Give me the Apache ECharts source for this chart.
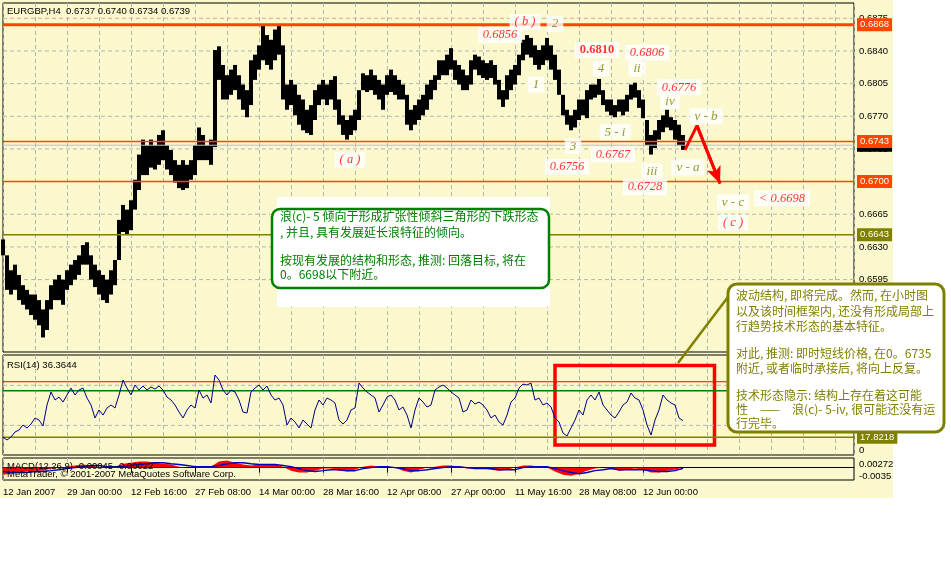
<!DOCTYPE html>
<html><head><meta charset="utf-8">
<script src="https://cdn.jsdelivr.net/npm/echarts@6/dist/echarts.min.js"></script>
<style>html,body{margin:0;padding:0;background:#fff}#c{width:951px;height:574px}</style>
</head><body><div id="c"></div>
<script>
// ---- data (EURGBP H4), sampled every 4 bars ----
const priceHigh = [
0.6638,0.6621,0.6605,0.6611,0.6600,0.6589,0.6584,0.6579,0.6579,0.6573,
0.6563,0.6573,0.6589,0.6595,0.6600,0.6595,0.6605,0.6611,0.6616,0.6621,
0.6632,0.6635,0.6621,0.6611,0.6605,0.6600,0.6595,0.6605,0.6616,0.6659,
0.6675,0.6670,0.6680,0.6702,0.6729,0.6745,0.6739,0.6745,0.6739,0.6750,
0.6755,0.6739,0.6734,0.6723,0.6718,0.6723,0.6718,0.6723,0.6739,0.6758,
0.6750,0.6739,0.6745,0.6841,0.6845,0.6825,0.6814,0.6820,0.6825,0.6814,
0.6804,0.6798,0.6830,0.6836,0.6846,0.6868,0.6857,0.6852,0.6863,0.6868,
0.6846,0.6804,0.6809,0.6804,0.6793,0.6788,0.6777,0.6782,0.6798,0.6804,
0.6809,0.6804,0.6809,0.6813,0.6788,0.6771,0.6766,0.6771,0.6777,0.6798,
0.6816,0.6814,0.6820,0.6814,0.6809,0.6804,0.6814,0.6820,0.6814,0.6809,
0.6804,0.6793,0.6777,0.6782,0.6788,0.6793,0.6804,0.6809,0.6814,0.6830,
0.6830,0.6836,0.6843,0.6830,0.6825,0.6820,0.6814,0.6830,0.6836,0.6834,
0.6830,0.6827,0.6830,0.6825,0.6809,0.6798,0.6814,0.6820,0.6825,0.6836,
0.6852,0.6857,0.6854,0.6846,0.6841,0.6846,0.6854,0.6846,0.6836,0.6820,
0.6793,0.6777,0.6771,0.6777,0.6788,0.6788,0.6798,0.6804,0.6804,0.6810,
0.6798,0.6788,0.6788,0.6782,0.6788,0.6788,0.6793,0.6804,0.6806,0.6798,
0.6788,0.6766,0.6750,0.6755,0.6766,0.6771,0.6777,0.6769,0.6766,0.6761,
0.6750];
const priceLow = [
0.6621,0.6584,0.6579,0.6584,0.6573,0.6568,0.6563,0.6557,0.6552,0.6546,
0.6533,0.6541,0.6563,0.6573,0.6573,0.6568,0.6584,0.6589,0.6595,0.6600,
0.6611,0.6611,0.6595,0.6587,0.6579,0.6573,0.6570,0.6579,0.6589,0.6616,
0.6646,0.6643,0.6648,0.6670,0.6691,0.6707,0.6707,0.6715,0.6713,0.6718,
0.6723,0.6713,0.6707,0.6699,0.6693,0.6691,0.6693,0.6702,0.6707,0.6723,
0.6723,0.6723,0.6718,0.6737,0.6809,0.6788,0.6788,0.6793,0.6798,0.6788,
0.6777,0.6769,0.6782,0.6809,0.6820,0.6830,0.6825,0.6820,0.6830,0.6836,
0.6788,0.6777,0.6782,0.6771,0.6761,0.6755,0.6752,0.6750,0.6766,0.6782,
0.6788,0.6782,0.6788,0.6777,0.6761,0.6750,0.6745,0.6750,0.6755,0.6766,
0.6798,0.6796,0.6798,0.6793,0.6788,0.6777,0.6793,0.6796,0.6793,0.6788,
0.6788,0.6761,0.6755,0.6761,0.6766,0.6771,0.6777,0.6788,0.6798,0.6809,
0.6814,0.6814,0.6820,0.6809,0.6804,0.6798,0.6798,0.6804,0.6820,0.6814,
0.6811,0.6809,0.6811,0.6804,0.6788,0.6780,0.6788,0.6798,0.6804,0.6814,
0.6830,0.6836,0.6833,0.6825,0.6820,0.6825,0.6830,0.6820,0.6809,0.6793,
0.6771,0.6761,0.6755,0.6758,0.6766,0.6771,0.6768,0.6788,0.6790,0.6793,
0.6782,0.6775,0.6771,0.6769,0.6775,0.6771,0.6775,0.6788,0.6790,0.6779,
0.6768,0.6739,0.6729,0.6736,0.6745,0.6753,0.6758,0.6755,0.6745,0.6739,
0.6734];
const rsiValues = [
17.8,14.6,18.0,23.6,25.8,31.4,28.1,32.5,39.3,37.0,
30.3,53.9,68.5,59.5,62.8,57.2,65.1,72.9,65.1,70.7,
72.9,61.7,53.9,39.3,48.3,42.6,50.5,53.9,50.5,65.1,
81.9,72.9,65.1,76.3,70.7,75.2,70.7,74.1,71.8,75.2,
70.7,62.8,59.5,53.9,46.0,39.3,48.3,53.9,50.5,70.7,
61.7,65.1,56.1,87.5,81.9,70.7,65.1,70.7,68.5,59.5,
46.0,44.9,68.5,72.9,76.3,70.7,75.2,65.1,59.5,61.7,
53.9,31.4,39.3,34.8,28.1,37.0,32.5,28.1,48.3,59.5,
53.9,61.7,59.5,56.1,37.0,32.5,37.0,48.3,50.5,78.6,
72.9,68.5,65.1,61.7,46.0,53.9,62.8,65.1,59.5,48.3,
51.6,42.6,28.1,48.3,61.7,57.2,51.6,53.9,70.7,74.1,
76.3,72.9,68.5,65.1,61.7,46.0,48.3,59.5,55.0,57.2,
53.9,48.3,39.3,42.6,34.8,31.4,42.6,57.2,61.7,72.9,
77.4,76.3,78.6,59.5,61.7,53.9,56.1,51.6,39.3,34.8,
22.4,19.1,28.1,37.0,48.3,42.6,59.5,65.1,59.5,68.5,
53.9,48.3,42.6,39.3,46.0,53.9,57.2,67.3,61.7,59.5,
48.3,31.4,20.2,37.0,48.3,65.1,59.5,56.1,53.9,39.3,
36.4];
// MACD sampled every 8 bars
const macdMain = [
-0.0020,-0.0017,-0.0014,-0.0011,-0.00085,-0.00085,-0.00028,0,0.00028,0.00057,
0.00085,0.00057,0.00028,0,0.00028,0.0011,0.0014,0.0017,0.0017,0.0014,
0.0011,0.00085,0.00028,0,0,0.00028,0.00028,0.0017,0.0020,0.0014,
0.00085,0.00057,0.00085,0.00085,0.00085,0.00028,-0.00085,-0.0014,-0.0014,-0.00085,
-0.00028,-0.00028,-0.00085,-0.0011,-0.00057,0.00028,0.00057,0.00028,0,0,
-0.00085,-0.0014,-0.00057,0,0.00028,0.00057,0.00057,0.00028,-0.00028,-0.00028,
-0.00028,-0.00057,-0.00085,-0.00057,0,0.00057,0.00057,0.00028,0,-0.0011,
-0.0020,-0.0023,-0.0017,-0.00085,-0.00028,0,-0.00028,-0.00085,-0.00057,-0.00028,
-0.00057,-0.0014,-0.0014,-0.00085,-0.00057,-0.00045];
const macdSignal = [
-0.0011,-0.0014,-0.0014,-0.0014,-0.0011,-0.0011,-0.00085,-0.00057,-0.00028,0,
0.00028,0.00057,0.00057,0.00028,0.00028,0.00028,0.00057,0.00085,0.0011,0.0014,
0.0014,0.0011,0.00085,0.00057,0.00028,0.00028,0.00028,0.00057,0.0011,0.0014,
0.0014,0.0011,0.00085,0.00085,0.00085,0.00057,0.00028,-0.00028,-0.00085,-0.0011,
-0.00085,-0.00057,-0.00057,-0.00085,-0.00085,-0.00028,0,0.00028,0.00028,0,
-0.00028,-0.00085,-0.00085,-0.00057,-0.00028,0,0.00028,0.00028,0,-0.00028,
-0.00028,-0.00028,-0.00057,-0.00057,-0.00057,0,0.00028,0.00028,0.00028,-0.00028,
-0.00085,-0.0014,-0.0017,-0.0014,-0.00085,-0.00057,-0.00028,-0.00057,-0.00057,-0.00057,
-0.00057,-0.00085,-0.0011,-0.0011,-0.00085,-0.00022];
const xTickLabels = ['12 Jan 2007','29 Jan 00:00','12 Feb 16:00','27 Feb 08:00','14 Mar 00:00','28 Mar 16:00','12 Apr 08:00','27 Apr 00:00','11 May 16:00','28 May 08:00','12 Jun 00:00'];
const priceTicks = [0.6875,0.6840,0.6805,0.6770,0.6735,0.6700,0.6665,0.6630,0.6595];
const currentPrice = 0.6739;
const levelValues = [0.6868,0.6743,0.6700,0.6643];
const levelKinds = ['orangeThick','orange','orange','olive'];
const rsiLevels = [80,70,17.8218];
const rsiGridLevels = [76,31];
const macdLabels = [0.00272,-0.0035];
// wave annotations: text, bar index, price, kind
const waveText = ['( b )','2','0.6856','0.6810','0.6806','4','ii','1','0.6776','iv','v - b','5 - i','3','0.6767','( a )','0.6756','v - a','iii','0.6728','< 0.6698','v - c','( c )'];
const waveBar = [522,552,497,594,644,598,634,533,676,667,703,612,570,610,347,564,685,649,642,779,730,730];
const wavePrice = [0.6871,0.6869,0.6857,0.6841,0.6838,0.6821,0.6821,0.6804,0.6801,0.6786,0.6770,0.6753,0.6738,0.6729,0.6723,0.6716,0.6715,0.6711,0.6694,0.6682,0.6678,0.6656];
const waveKind = ['red','olive','red','bold','red','olive','olive','olive','red','olive','olive','olive','olive','red','red','red','olive','olive','red','red','olive','red'];
const arrowPath = [[682,0.6734],[694,0.6760],[717,0.6698]];
const rsiBox = [[552,98.2],[711.5,9.0]];
const greenNote = ['浪(c)- 5 倾向于形成扩张性倾斜三角形的下跌形态',', 并且, 具有发展延长浪特征的倾向。','','按现有发展的结构和形态, 推测: 回落目标, 将在','0。6698以下附近。'];
const oliveNote = ['波动结构, 即将完成。然而, 在小时图','以及该时间框架内, 还没有形成局部上','行趋势技术形态的基本特征。','','对此, 推测: 即时短线价格, 在0。6735','附近, 或者临时承接后, 将向上反复。','','技术形态隐示: 结构上存在着这可能','性　——　浪(c)- 5-iv, 很可能还没有运','行完毕。'];

// ---- chart ----
const priceStep = 4, macdStep = 8, xMin = 0, xMax = 851;
const FONT = 'Liberation Sans';
const BG = '#FBF8CD';
const dash = {color:'#B4B4B4', type:[4,3], width:1};
const priceData = priceLow.map((lo,i)=>[i*priceStep, lo, priceHigh[i]]);
const rsiData = rsiValues.map((v,i)=>[i*priceStep, v]);
const macdMainData = macdMain.map((v,i)=>[i*macdStep, v]);
const macdSignalData = macdSignal.map((v,i)=>[i*macdStep, v]);

const levelStyle = {
  orangeThick:{color:'#FF4500', width:3},
  orange:{color:'#FF4500', width:1.5},
  olive:{color:'#808000', width:1.5}
};
const tag = (text,bg)=>({formatter:text, color:'#fff', backgroundColor:bg, padding:[2,3,1,3], fontSize:9.5, fontFamily:FONT, distance:3});
const plain = (text,extra)=>Object.assign({formatter:text, color:'#000', fontSize:9.5, fontFamily:FONT, distance:5}, extra||{});

function hLine(g, v, lineStyle, label, z){
  return {type:'line', xAxisIndex:g, yAxisIndex:g, data:[[xMin,v],[xMax,v]], showSymbol:false, silent:true, z:z,
    lineStyle:lineStyle, animation:false,
    endLabel: label ? Object.assign({show:true}, label) : {show:false}};
}

const series = [];
// price grid lines + tick labels
priceTicks.forEach(v=>series.push(hLine(0, v, dash, plain(v.toFixed(4)), 1)));
// price bars
series.push({type:'custom', xAxisIndex:0, yAxisIndex:0, data:priceData, encode:{x:0, y:[1,2]}, silent:true, z:3,
  renderItem:function(params, api){
    const x = api.value(0), lo = api.value(1), hi = api.value(2);
    const a = api.coord([x - priceStep/2, hi]);
    const b = api.coord([x + priceStep/2, lo]);
    return {type:'rect', shape:{x:a[0], y:a[1], width:b[0]-a[0], height:Math.max(1.5, b[1]-a[1])}, style:{fill:'#000'}};
  }});
// current price + levels
series.push(hLine(0, currentPrice, {color:'#C0C0C0', width:1}, tag(currentPrice.toFixed(4),'#000'), 4));
levelValues.forEach((v,i)=>{const s=levelStyle[levelKinds[i]]; series.push(hLine(0, v, {color:s.color, width:s.width}, tag(v.toFixed(4), s.color), 5));});
// red arrow
series.push({type:'line', xAxisIndex:0, yAxisIndex:0, data:arrowPath, showSymbol:false, silent:true, z:6,
  lineStyle:{color:'#FF0000', width:3},
  markLine:{silent:true, symbol:['none','arrow'], symbolSize:[11,17], label:{show:false}, lineStyle:{color:'#FF0000', width:3, type:'solid'},
    data:[[{coord:arrowPath[1]},{coord:arrowPath[2]}]]}});
// wave labels
const kindStyle = {
  red:{color:'#FF0000', fontStyle:'italic', fontFamily:'Liberation Serif', fontSize:12.5},
  olive:{color:'#808000', fontStyle:'italic', fontFamily:'Liberation Serif', fontSize:13},
  bold:{color:'#FF0000', fontWeight:'bold', fontFamily:'Liberation Serif', fontSize:12.5}
};
const waveData = waveText.map((t,i)=>({value:[waveBar[i], wavePrice[i]], label:Object.assign({show:true, position:'inside', formatter:t, backgroundColor:'#fff', padding:[2,5,1,5]}, kindStyle[waveKind[i]])}));
series.push({type:'scatter', xAxisIndex:0, yAxisIndex:0, data:waveData, symbolSize:0, silent:true, z:8});

// RSI pane
rsiGridLevels.forEach(v=>series.push(hLine(1, v, dash, null, 1)));
series.push(hLine(1, rsiLevels[0], {color:'#FF0000', width:1}, null, 2));
series.push(hLine(1, rsiLevels[1], {color:'#008000', width:1.5}, null, 2));
series.push(hLine(1, rsiLevels[2], {color:'#808000', width:1.5}, tag(String(rsiLevels[2]),'#808000'), 2));
series.push(hLine(1, 0, {color:'rgba(0,0,0,0)', width:0}, plain('0', {offset:[0,-3]}), 2));
series.push({type:'line', xAxisIndex:1, yAxisIndex:1, data:rsiData, showSymbol:false, silent:true, z:4,
  lineStyle:{color:'#000080', width:1},
  markArea:{silent:true, itemStyle:{color:'rgba(0,0,0,0)', borderColor:'#FF0000', borderWidth:3.5}, data:[[{coord:rsiBox[0]},{coord:rsiBox[1]}]]}});

// MACD pane
series.push({type:'line', xAxisIndex:2, yAxisIndex:2, data:macdMainData, showSymbol:false, silent:true, z:3,
  lineStyle:{width:0, color:'#FF0000'}, areaStyle:{color:'#FF0000', opacity:1, origin:0}});
series.push({type:'line', xAxisIndex:2, yAxisIndex:2, data:macdSignalData, showSymbol:false, silent:true, z:4,
  lineStyle:{color:'#0000C0', width:1.5}});
series.push(hLine(2, macdLabels[0], {color:'rgba(0,0,0,0)', width:0}, plain(String(macdLabels[0]), {offset:[0,6]}), 2));
series.push(hLine(2, macdLabels[1], {color:'rgba(0,0,0,0)', width:0}, plain(String(macdLabels[1]), {offset:[0,-4]}), 2));

const xBase = {type:'value', min:xMin, max:xMax, interval:32, axisLine:{show:false}, axisTick:{show:false}, axisLabel:{show:false}, splitLine:{show:true, lineStyle:dash}};
const tickVals = xTickLabels.map((_,i)=>i*64);
const gridBase = {left:3, width:851, show:true, borderColor:'#000', borderWidth:1, backgroundColor:'transparent', containLabel:false, outerBoundsMode:'none'};

const elements = [
  {type:'rect', shape:{x:893,y:0,width:58,height:574}, style:{fill:'#fff'}, z:1, silent:true},
  {type:'rect', shape:{x:0,y:498,width:951,height:76}, style:{fill:'#fff'}, z:1, silent:true},
  {type:'text', x:7, y:11, style:{text:'EURGBP,H4  0.6737 0.6740 0.6734 0.6739', fill:'#000', font:'9.5px "Liberation Sans"', verticalAlign:'middle'}, z:60},
  {type:'text', x:7, y:365, style:{text:'RSI(14) 36.3644', fill:'#000', font:'9.5px "Liberation Sans"', verticalAlign:'middle'}, z:60},
  {type:'text', x:7, y:466, style:{text:'MACD(12,26,9) -0.00045 -0.00022', fill:'#000', font:'9.5px "Liberation Sans"', verticalAlign:'middle'}, z:60},
  {type:'text', x:7, y:474, style:{text:'MetaTrader, © 2001-2007 MetaQuotes Software Corp.', fill:'#000', font:'9.5px "Liberation Sans"', verticalAlign:'middle'}, z:60},
  {type:'rect', shape:{x:277,y:197,width:273,height:110}, style:{fill:'#fff'}, z:50},
  {type:'rect', shape:{x:272,y:209,width:277,height:79,r:8}, style:{fill:'#fff', stroke:'#008000', lineWidth:2.5}, z:51},
  {type:'line', shape:{x1:728,y1:297,x2:678,y2:363}, style:{stroke:'#808000', lineWidth:2.5}, z:50},
  {type:'rect', shape:{x:728,y:284,width:216,height:148,r:9}, style:{fill:'#fff', stroke:'#808000', lineWidth:3}, z:51}
];
const greenY = [216,232,246,260,274];
greenNote.forEach((t,i)=>{ if(t) elements.push({type:'text', x:280, y:greenY[i], style:{text:t, fill:'#008000', font:'12px "Noto Sans CJK SC"', verticalAlign:'middle'}, z:52}); });
const oliveY = [295,311,326,339,353,368,381,395,409,423];
oliveNote.forEach((t,i)=>{ if(t) elements.push({type:'text', x:736, y:oliveY[i], style:{text:t, fill:'#808000', font:'12px "Noto Sans CJK SC"', verticalAlign:'middle'}, z:52}); });

const option = {
  animation:false,
  backgroundColor:BG,
  grid:[
    Object.assign({top:3, height:349}, gridBase),
    Object.assign({top:355, height:100}, gridBase),
    Object.assign({top:458, height:22}, gridBase)
  ],
  xAxis:[
    Object.assign({gridIndex:0}, xBase),
    Object.assign({gridIndex:1}, xBase),
    Object.assign({}, xBase, {gridIndex:2,
      axisLine:{show:true, lineStyle:{color:'#000'}},
      axisTick:{show:true, customValues:tickVals, length:5, lineStyle:{color:'#000'}},
      axisLabel:{show:true, customValues:tickVals, formatter:v=>(v%64===0 && xTickLabels[v/64]) ? xTickLabels[v/64] : '', align:'left', margin:7, color:'#000', fontSize:9.5, fontFamily:FONT}})
  ],
  yAxis:[
    {gridIndex:0, type:'value', min:0.65174, max:0.68914, show:false},
    {gridIndex:1, type:'value', min:-2.24, max:110, show:false},
    {gridIndex:2, type:'value', min:-0.0035, max:0.00272, show:false}
  ],
  series:series,
  graphic:{elements:elements}
};
const chart = echarts.init(document.getElementById('c'));
chart.setOption(option);
</script>
</body></html>
